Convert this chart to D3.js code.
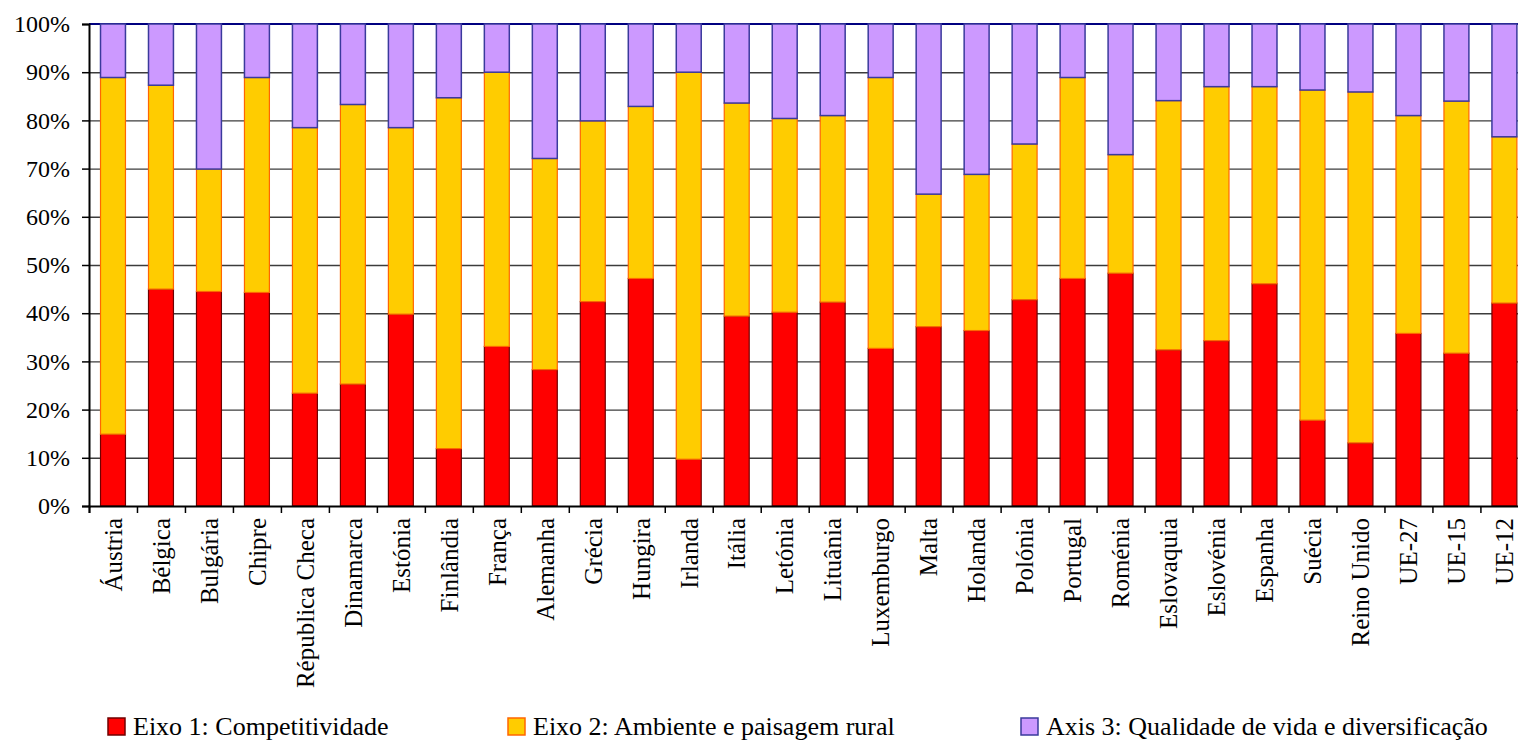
<!DOCTYPE html>
<html lang="pt">
<head>
  <meta charset="UTF-8">
  <title>Eixos por país</title>
  <script src="https://d3js.org/d3.v7.min.js"></script>
  <style>
    body { margin: 0; background: #fff; }
    svg text { font-family: 'Liberation Serif', 'Times New Roman', Times, serif; }
  </style>
</head>
<body>
  <svg id="chart" width="1518" height="741"></svg>
  <script>
    const categories = ['Áustria', 'Bélgica', 'Bulgária', 'Chipre', 'Républica Checa', 'Dinamarca', 'Estónia',
      'Finlândia', 'França', 'Alemanha', 'Grécia', 'Hungira', 'Irlanda', 'Itália', 'Letónia', 'Lituânia',
      'Luxemburgo', 'Malta', 'Holanda', 'Polónia', 'Portugal', 'Roménia', 'Eslovaquia', 'Eslovénia',
      'Espanha', 'Suécia', 'Reino Unido', 'UE-27', 'UE-15', 'UE-12'];

    // shares in %
    const eixo1 = [14.9, 45.0, 44.5, 44.3, 23.4, 25.3, 39.8, 11.9, 33.1, 28.3, 42.4, 47.2, 9.7, 39.4, 40.2,
      42.3, 32.7, 37.2, 36.4, 42.8, 47.2, 48.3, 32.4, 34.3, 46.1, 17.8, 13.1, 35.8, 31.7, 42.1];
    const eixo2 = [74.0, 42.3, 25.4, 44.6, 55.1, 58.0, 38.7, 72.8, 56.9, 43.8, 37.5, 35.7, 80.3, 44.2, 40.2,
      38.7, 56.2, 27.5, 32.4, 32.3, 41.7, 24.6, 51.7, 52.7, 40.9, 68.5, 72.8, 45.2, 52.3, 34.5];
    const eixo3 = [11.1, 12.7, 30.1, 11.1, 21.5, 16.7, 21.5, 15.3, 10.0, 27.9, 20.1, 17.1, 10.0, 16.4, 19.6,
      19.0, 11.1, 35.3, 31.2, 24.9, 11.1, 27.1, 15.9, 13.0, 13.0, 13.7, 14.1, 19.0, 16.0, 23.4];

    const seriesNames = ['Eixo 1: Competitividade', 'Eixo 2: Ambiente e paisagem rural',
      'Axis 3: Qualidade de vida e diversificação'];
    const yTicks = [0, 0.1, 0.2, 0.3, 0.4, 0.5, 0.6, 0.7, 0.8, 0.9, 1];

    const fills = ['#ff0000', '#ffcc00', '#cc99ff'];
    const strokes = ['#700000', '#ff6600', '#3a3a9c'];
    const serif = "'Liberation Serif', 'Times New Roman', Times, serif";

    const rows = categories.map((c, i) => {
      const tot = eixo1[i] + eixo2[i] + eixo3[i];
      return { cat: c, e1: eixo1[i] / tot, e2: eixo2[i] / tot, e3: eixo3[i] / tot };
    });
    const keys = ['e1', 'e2', 'e3'];
    const stacked = d3.stack().keys(keys)(rows);

    const svg = d3.select('#chart').attr('font-family', serif);
    const plotLeft = 89, plotTop = 24, plotBottom = 506;
    const step = 47.98;
    const plotRight = plotLeft + step * categories.length;

    const x = d3.scaleBand().domain(categories).range([plotLeft, plotRight])
      .paddingInner(0.48).paddingOuter(0.24);
    const xIdx = d3.scaleLinear().domain([0, categories.length]).range([plotLeft, plotRight]);
    const y = d3.scaleLinear().domain([0, 1]).range([plotBottom, plotTop]);

    // gridlines
    svg.append('g')
      .attr('transform', `translate(${plotLeft},0)`)
      .call(d3.axisLeft(y).tickValues(yTicks.slice(1, -1)).tickSize(-(plotRight - plotLeft)).tickFormat(''))
      .call(g => g.select('.domain').remove())
      .call(g => g.selectAll('line').attr('stroke', '#3c3c3c').attr('stroke-width', 1.4));

    // top border
    svg.append('line')
      .attr('x1', plotLeft).attr('x2', plotRight).attr('y1', y(1)).attr('y2', y(1))
      .attr('stroke', '#000080').attr('stroke-width', 2);

    // bars
    svg.append('g').selectAll('g')
      .data(stacked)
      .join('g')
      .attr('fill', (d, i) => fills[i])
      .attr('stroke', (d, i) => strokes[i])
      .attr('stroke-width', (d, i) => i === 2 ? 1.5 : 1.2)
      .selectAll('rect')
      .data(d => d)
      .join('rect')
      .attr('x', d => x(d.data.cat))
      .attr('width', x.bandwidth())
      .attr('y', d => y(d[1]))
      .attr('height', d => y(d[0]) - y(d[1]));

    // y axis
    svg.append('g')
      .attr('transform', `translate(${plotLeft},0)`)
      .call(d3.axisLeft(y).tickValues(yTicks).tickSize(7).tickPadding(12).tickFormat(d3.format('.0%')))
      .attr('font-family', serif)
      .attr('font-size', 24)
      .call(g => g.select('.domain').attr('stroke', '#000').attr('stroke-width', 2))
      .call(g => g.selectAll('line').attr('stroke', '#000').attr('stroke-width', 1.5))
      .call(g => g.selectAll('text').attr('fill', '#000'));

    // x axis with ticks at band boundaries
    svg.append('g')
      .attr('transform', `translate(0,${plotBottom})`)
      .call(d3.axisBottom(xIdx).tickValues(d3.range(0, categories.length + 1)).tickSize(7).tickFormat(''))
      .call(g => g.select('.domain').attr('stroke', '#000').attr('stroke-width', 2))
      .call(g => g.selectAll('line').attr('stroke', '#000').attr('stroke-width', 1.5));

    // x labels
    svg.append('g').selectAll('text')
      .data(categories)
      .join('text')
      .attr('transform', d => `translate(${x(d) + x.bandwidth() / 2},518) rotate(-90)`)
      .attr('text-anchor', 'end')
      .attr('dy', '0.35em')
      .attr('font-family', serif)
      .attr('font-size', 25)
      .attr('fill', '#000')
      .text(d => d);

    // legend
    const legendX = [108, 508, 1021];
    const lg = svg.append('g').selectAll('g')
      .data(seriesNames)
      .join('g')
      .attr('transform', (d, i) => `translate(${legendX[i]},718)`);
    lg.append('rect')
      .attr('width', 17).attr('height', 17)
      .attr('fill', (d, i) => fills[i])
      .attr('stroke', (d, i) => strokes[i])
      .attr('stroke-width', 1.5);
    lg.append('text')
      .attr('x', 25).attr('y', 17)
      .attr('font-family', serif)
      .attr('font-size', 26)
      .attr('fill', '#000')
      .text(d => d);
  </script>
</body>
</html>
